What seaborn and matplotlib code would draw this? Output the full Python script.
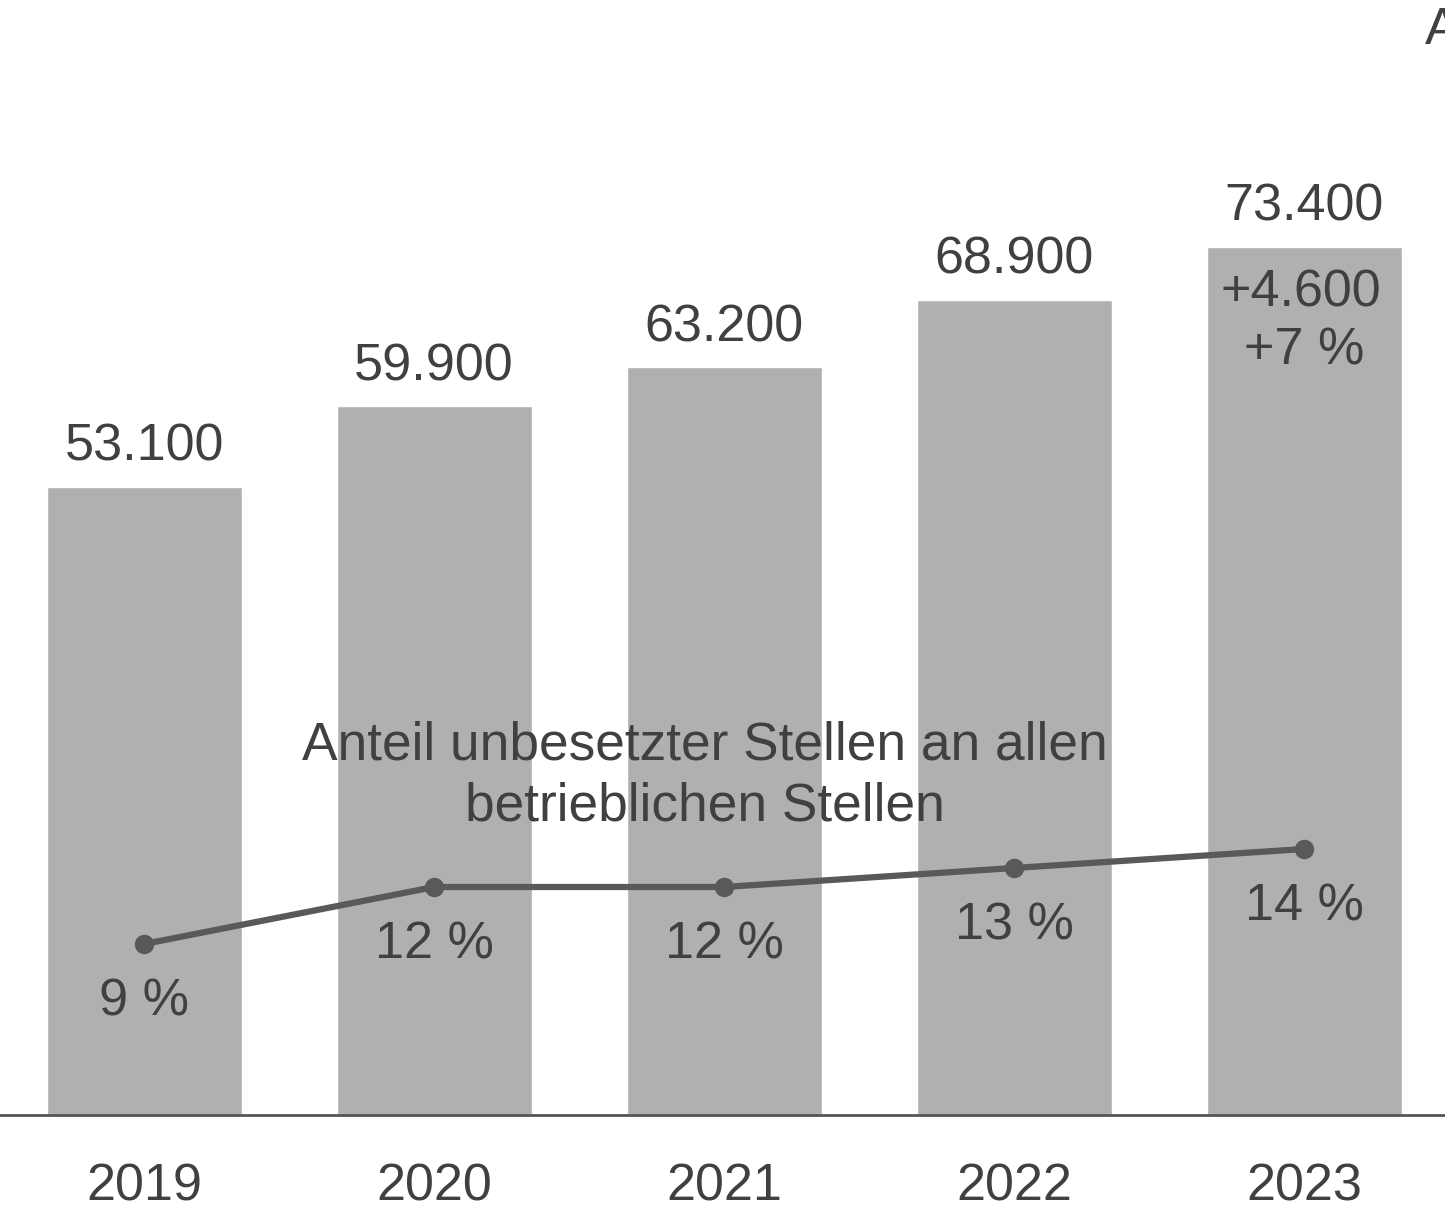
import pandas as pd
import matplotlib
matplotlib.use("Agg")
import matplotlib.pyplot as plt
import seaborn as sns

# ---------------------------------------------------------
# Data
# ---------------------------------------------------------
years = ["2019", "2020", "2021", "2022", "2023"]
vacancies = [53100, 59900, 63200, 68900, 73400]
vacancy_labels = ["53.100", "59.900", "63.200", "68.900", "73.400"]
share_pct = [9, 12, 12, 13, 14]
share_labels = ["9 %", "12 %", "12 %", "13 %", "14 %"]
change_labels = ["+4.600", "+7 %"]

TEXT = "#404040"
BAR = "#b0b0b0"
LINE = "#595959"
FS = 37.5

sns.set_theme(style="white")
plt.rcParams["font.family"] = ["Liberation Sans", "DejaVu Sans"]

df = pd.DataFrame({"year": years, "vacancies": vacancies, "share": share_pct})

fig = plt.figure(figsize=(14.45, 12.10), dpi=100)
ax = fig.add_axes([0, 95 / 1210, 1, 1115 / 1210])

sns.barplot(data=df, x="year", y="vacancies", color=BAR, width=0.672,
            saturation=1, ax=ax)
ax.set_xlim(-0.497, 4.486)
ax.set_ylim(0, 1115 / 11.83 * 1000)

for i, (v, lab) in enumerate(zip(vacancies, vacancy_labels)):
    ax.annotate(lab, (i, v), xytext=(0, 15), textcoords="offset pixels",
                ha="center", va="bottom", fontsize=FS, color=TEXT)

# change annotation inside the last bar
ax.annotate(change_labels[0], (4, vacancies[-1]), xytext=(-3, -22),
            textcoords="offset pixels", ha="center", va="top",
            fontsize=FS, color=TEXT)
ax.annotate(change_labels[1], (4, vacancies[-1]), xytext=(0, -80),
            textcoords="offset pixels", ha="center", va="top",
            fontsize=FS, color=TEXT)

# share line on secondary axis
ax2 = ax.twinx()
sns.lineplot(data=df, x="year", y="share", color=LINE, linewidth=4.5,
             marker="o", markersize=14, markeredgewidth=0, ax=ax2)
ax2.set_ylim(0, 1115 / 19)
ax2.set_xlim(ax.get_xlim())

for i, (s, lab) in enumerate(zip(share_pct, share_labels)):
    ax2.annotate(lab, (i, s), xytext=(0, -58), textcoords="offset pixels",
                 ha="center", va="center", fontsize=FS, color=TEXT)

ax2.text(1.934, 17.83, "Anteil unbesetzter Stellen an allen\nbetrieblichen Stellen",
         ha="center", va="center", fontsize=38.3, color=TEXT, linespacing=1.27)

for a in (ax, ax2):
    a.set_xlabel("")
    a.set_ylabel("")
    a.set_yticks([])
    for side in ("top", "right", "left"):
        a.spines[side].set_visible(False)
ax2.spines["bottom"].set_visible(False)
ax.spines["bottom"].set_color("#555555")
ax.spines["bottom"].set_linewidth(2)
ax.tick_params(axis="x", length=0, pad=34, labelsize=FS, labelcolor=TEXT)

# cut-off title fragment at the top right (cut off in the reference too)
fig.text(1425 / 1445, 1 - 30 / 1210, "A", ha="left", va="center",
         fontsize=FS, color=TEXT)

fig.savefig("out.png", dpi=100)
